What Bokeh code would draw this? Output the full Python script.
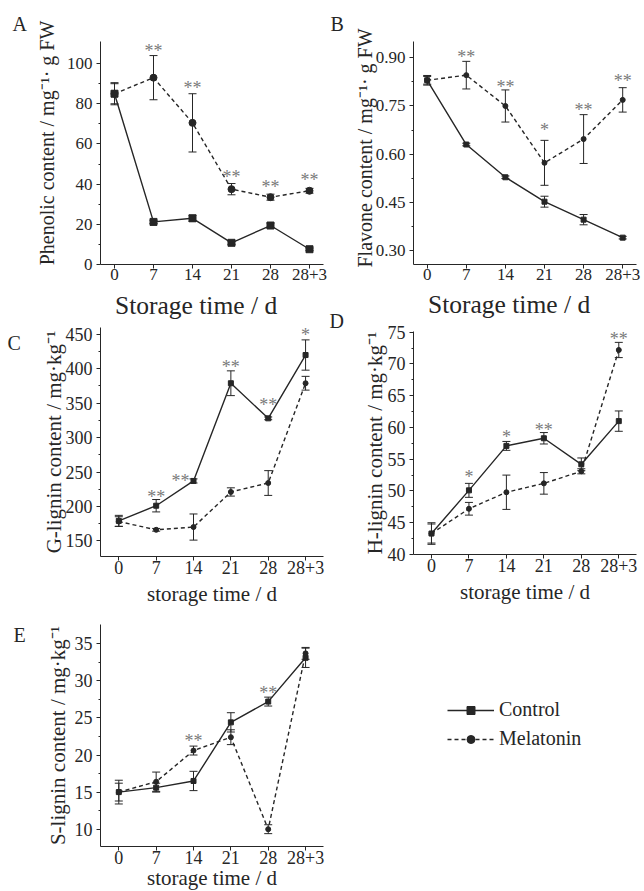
from bokeh.plotting import figure
from bokeh.layouts import row, column
from bokeh.models import (ColumnDataSource, Whisker, TeeHead, LabelSet, Title,
                          FixedTicker, Legend, LegendItem, Range1d, PrintfTickFormatter)
from bokeh.embed import file_html
from bokeh.resources import INLINE

# ---------------- data ----------------
DAYS = ["0", "7", "14", "21", "28", "28+3"]

phen_ctrl = [85.0, 21.2, 23.0, 10.8, 19.4, 7.6]
phen_ctrl_err = [5.5, 0.8, 1.5, 0.8, 1.2, 0.6]
phen_mel = [85.0, 93.0, 70.5, 37.5, 33.5, 36.7]
phen_mel_err = [5.0, 11.0, 14.5, 2.8, 1.5, 1.2]
phen_sig = ["", "**", "**", "**", "**", "**"]

flav_ctrl = [0.830, 0.630, 0.528, 0.452, 0.396, 0.340]
flav_ctrl_err = [0.015, 0.004, 0.004, 0.017, 0.016, 0.004]
flav_mel = [0.830, 0.846, 0.750, 0.573, 0.647, 0.769]
flav_mel_err = [0.012, 0.043, 0.050, 0.070, 0.076, 0.038]
flav_sig = ["", "**", "**", "*", "**", "**"]

g_ctrl = [179, 201, 237, 379, 328, 420]
g_ctrl_err = [8, 9, 3, 18, 2, 22]
g_mel = [178, 166, 170, 221, 234, 379]
g_mel_err = [7, 2, 19, 6, 18, 10]
g_sig = ["", "**", "**", "**", "**", "*"]

h_ctrl = [43.3, 50.1, 57.1, 58.3, 54.2, 61.0]
h_ctrl_err = [1.7, 1.1, 0.7, 0.9, 1.0, 1.6]
h_mel = [43.3, 47.2, 49.8, 51.2, 53.1, 72.2]
h_mel_err = [1.5, 1.0, 2.7, 1.7, 0.4, 1.2]
h_sig = ["", "*", "*", "**", "", "**"]

s_ctrl = [15.0, 15.6, 16.5, 24.4, 27.2, 33.1]
s_ctrl_err = [1.6, 0.6, 1.3, 1.3, 0.6, 1.3]
s_mel = [15.0, 16.4, 20.6, 22.4, 10.0, 33.7]
s_mel_err = [1.2, 1.3, 0.6, 1.0, 0.6, 0.8]
s_sig = ["", "", "**", "", "**", ""]

A_TICKS = [0, 20, 40, 60, 80, 100]
B_TICKS = [0.30, 0.45, 0.60, 0.75, 0.90]
C_TICKS = [150, 200, 250, 300, 350, 400, 450]
D_TICKS = [40, 45, 50, 55, 60, 65, 70, 75]
E_TICKS = [10, 15, 20, 25, 30, 35]

# ---------------- style / layout ----------------
FONT = "Liberation Serif"
INK = "#262626"
STARC = "#7a7a7a"
NB = "\u00a0"

X = list(range(len(DAYS)))


def letter_title(text, offset, standoff):
    return Title(text=text, align="left", offset=offset, standoff=standoff,
                 text_font=FONT, text_font_size="20px", text_font_style="normal",
                 text_color=INK)


def make_panel(g, ctrl, cerr, mel, merr, sig, ticks, minor, fmt, msize, tick_size,
               ylab, ylab_size, ylab_standoff, xlab, xlab_size, xlab_standoff,
               star_pad, star_dx):
    mbl, mbt, mbr, mbb = g["mb"]
    p = figure(frame_width=g["fw"], frame_height=g["fh"],
               min_border_left=mbl, min_border_top=mbt,
               min_border_right=mbr, min_border_bottom=mbb,
               x_range=Range1d(*g["x"]), y_range=Range1d(*g["y"]),
               output_backend="svg", toolbar_location=None)
    p.outline_line_color = None
    p.grid.visible = False
    p.background_fill_color = "white"
    p.border_fill_color = "white"

    for ax in (p.xaxis[0], p.yaxis[0]):
        ax.axis_line_color = INK
        ax.axis_line_width = 1
        ax.major_tick_line_color = INK
        ax.minor_tick_line_color = INK
        ax.major_tick_in = 0
        ax.minor_tick_in = 0
        ax.major_label_text_font = FONT
        ax.major_label_text_color = INK
        ax.major_label_text_font_size = tick_size
        ax.axis_label_text_font = FONT
        ax.axis_label_text_font_style = "normal"
        ax.axis_label_text_color = INK

    xa = p.xaxis[0]
    xa.ticker = FixedTicker(ticks=X, minor_ticks=[])
    xa.major_label_overrides = {i: d for i, d in enumerate(DAYS)}
    xa.major_tick_out = 4
    xa.major_label_standoff = 0
    if xlab:
        xa.axis_label = xlab
        xa.axis_label_text_font_size = xlab_size
        xa.axis_label_standoff = xlab_standoff

    ya = p.yaxis[0]
    ya.ticker = FixedTicker(ticks=ticks, minor_ticks=minor)
    ya.major_tick_out = 4
    ya.minor_tick_out = 2
    ya.major_label_standoff = 4
    ya.axis_label = ylab
    ya.axis_label_text_font_size = ylab_size
    ya.axis_label_standoff = ylab_standoff
    if fmt:
        ya.formatter = PrintfTickFormatter(format=fmt)

    src = ColumnDataSource(dict(
        x=X, c=ctrl, cu=[v + e for v, e in zip(ctrl, cerr)], cl=[v - e for v, e in zip(ctrl, cerr)],
        m=mel, mu=[v + e for v, e in zip(mel, merr)], ml=[v - e for v, e in zip(mel, merr)]))

    for up, lo in (("cu", "cl"), ("mu", "ml")):
        w = Whisker(source=src, base="x", upper=up, lower=lo,
                    line_color=INK, line_width=1,
                    upper_head=TeeHead(size=8, line_color=INK, line_width=1),
                    lower_head=TeeHead(size=8, line_color=INK, line_width=1))
        p.add_layout(w)

    lc = p.line("x", "c", source=src, line_color=INK, line_width=1.4)
    lm = p.line("x", "m", source=src, line_color=INK, line_width=1.4, line_dash="4 3")
    sc = p.scatter("x", "c", source=src, marker="square", size=msize,
                   fill_color=INK, line_color=INK)
    sm = p.scatter("x", "m", source=src, marker="circle", size=msize,
                   fill_color=INK, line_color=INK)

    # significance stars
    ypx = (g["y"][1] - g["y"][0]) / g["fh"]
    xpx = (g["x"][1] - g["x"][0]) / g["fw"]
    sx, sy, st = [], [], []
    for i, s in enumerate(sig):
        if not s:
            continue
        top = max(ctrl[i] + cerr[i], mel[i] + merr[i])
        sx.append(X[i] + star_dx[i] * xpx)
        sy.append(top + star_pad[i] * ypx)
        st.append(s)
    ssrc = ColumnDataSource(dict(x=sx, y=sy, t=st))
    p.add_layout(LabelSet(x="x", y="y", text="t", source=ssrc,
                          text_align="center", text_baseline="middle",
                          text_font=FONT, text_font_size="18px",
                          text_color=STARC))
    return p, (lc, sc, lm, sm)


GA = dict(fw=223, fh=223, x=(-0.359, 5.359), y=(0, 111), mb=(100, 41, 5, 56))
GB = dict(fw=223, fh=223, x=(-0.350, 5.353), y=(0.2564, 0.9508), mb=(85, 41, 8, 24))
GC = dict(fw=223, fh=229, x=(-0.49, 5.48), y=(127.2, 460.0), mb=(100, 5, 5, 56))
GD = dict(fw=223, fh=223, x=(-0.48, 5.473), y=(40.0, 75.11), mb=(85, 43, 8, 56))
GE = dict(fw=223, fh=222, x=(-0.49, 5.48), y=(7.668, 37.59), mb=(100, 12, 321, 47))

pA, _ = make_panel(GA, phen_ctrl, phen_ctrl_err, phen_mel, phen_mel_err, phen_sig,
                   A_TICKS, [10, 30, 50, 70, 90], None, 7, "17px",
                   NB * 4 + "Phenolic content / mg\u207b\u00b9\u00b7 g FW", "20px", 6,
                   "Storage time / d" + NB * 5, "25.5px", 8,
                   [0, 5, 6, 7, 7, 8], [0, 0, 0, 0, 0, 0])
pA.title = letter_title("A", -88, 14)

pB, _ = make_panel(GB, flav_ctrl, flav_ctrl_err, flav_mel, flav_mel_err, flav_sig,
                   B_TICKS, [0.375, 0.525, 0.675, 0.825], "%.2f", 5, "17px",
                   NB * 2 + "Flavone content / mg\u207b\u00b9\u00b7 g FW", "20px", -3,
                   None, None, 0,
                   [0, 4, 3, 10, 5, 7], [0, 0, 0, 0, 0, 0])
pB.title = letter_title("B", -83, 14)

pC, _ = make_panel(GC, g_ctrl, g_ctrl_err, g_mel, g_mel_err, g_sig,
                   C_TICKS, [175, 225, 275, 325, 375, 425], None, 5, "18px",
                   "G-lignin content / mg\u00b7kg\u207b\u00b9", "21px", -3,
                   "storage time / d", "21px", 5,
                   [0, 3, -2, 4, 12, 5], [0, 0, -13, 0, 0, 0])
pC.title = letter_title("C", -93, -52)

pD, _ = make_panel(GD, h_ctrl, h_ctrl_err, h_mel, h_mel_err, h_sig,
                   D_TICKS, [42.5, 47.5, 52.5, 57.5, 62.5, 67.5, 72.5], None, 5, "18px",
                   "H-lignin content / mg\u00b7kg\u207b\u00b9", "21px", -2,
                   "storage time / d", "21px", 5,
                   [0, 6, 4, 3, 0, 3], [0, 0, 0, 0, 0, 0])
# panel B's x-axis title lives in the band above panel D (outermost title)
pD.title = Title(text="Storage time / d" + NB * 5, align="center", standoff=-22,
                 text_font=FONT, text_font_size="25.5px", text_font_style="normal",
                 text_color=INK)
pD.add_layout(letter_title("D", -84, 0), "above")

pE, (elc, esc, elm, esm) = make_panel(
                   GE, s_ctrl, s_ctrl_err, s_mel, s_mel_err, s_sig,
                   E_TICKS, [12.5, 17.5, 22.5, 27.5, 32.5], None, 5, "18px",
                   "S-lignin content / mg\u00b7kg\u207b\u00b9", "21px", 2,
                   "storage time / d", "21px", -1,
                   [0, 0, 5, 0, 4, 0], [0, 0, 0, 0, 0, 0])
pE.title = letter_title("E", -87, -42)

leg = Legend(items=[LegendItem(label="Control", renderers=[elc, esc]),
                    LegendItem(label="Melatonin", renderers=[elm, esm])],
             location=(124, 96), padding=0, margin=0, spacing=6,
             glyph_width=47, glyph_height=20, label_height=20, label_standoff=5,
             label_text_font=FONT, label_text_font_size="20px", label_text_color=INK,
             border_line_color=None, background_fill_alpha=0)
pE.add_layout(leg, "right")

layout = column(row(column(pA, pC), column(pB, pD)), pE)

with open("out.html", "w") as f:
    f.write(file_html(layout, INLINE))
